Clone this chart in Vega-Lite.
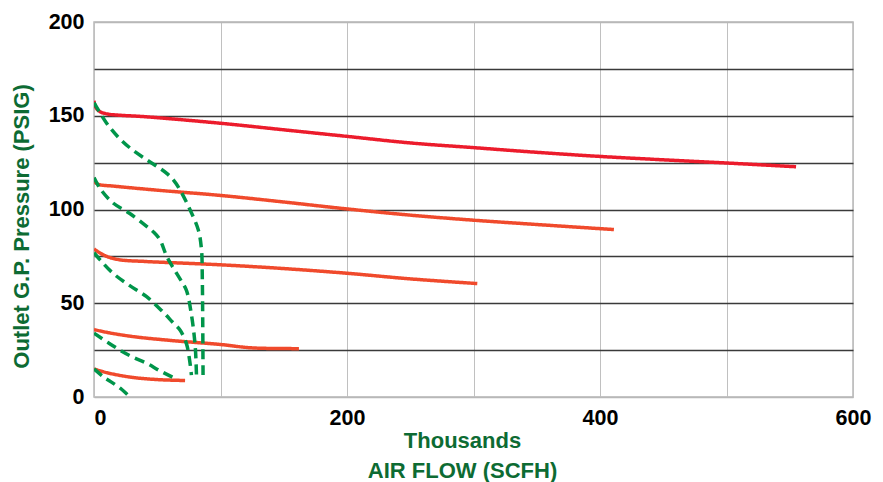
{
  "$schema": "https://vega.github.io/schema/vega-lite/v6.json",
  "width": 759,
  "height": 375,
  "autosize": {"type": "none"},
  "padding": {"left": 94, "top": 22, "right": 30, "bottom": 85},
  "background": "white",
  "config": {
    "view": {"stroke": "#b8b8b8", "strokeWidth": 1.5},
    "font": "Liberation Sans"
  },
  "data": {
    "values": [
      {"s": "P1", "k": "pressure", "i": 0, "x": 0, "y": 158},
      {"s": "P1", "k": "pressure", "i": 1, "x": 1, "y": 155},
      {"s": "P1", "k": "pressure", "i": 2, "x": 4, "y": 152.5},
      {"s": "P1", "k": "pressure", "i": 3, "x": 10, "y": 151},
      {"s": "P1", "k": "pressure", "i": 4, "x": 20, "y": 150.3},
      {"s": "P1", "k": "pressure", "i": 5, "x": 40, "y": 149.5},
      {"s": "P1", "k": "pressure", "i": 6, "x": 100, "y": 146},
      {"s": "P1", "k": "pressure", "i": 7, "x": 150, "y": 142.5},
      {"s": "P1", "k": "pressure", "i": 8, "x": 200, "y": 139},
      {"s": "P1", "k": "pressure", "i": 9, "x": 250, "y": 135.5},
      {"s": "P1", "k": "pressure", "i": 10, "x": 300, "y": 133},
      {"s": "P1", "k": "pressure", "i": 11, "x": 350, "y": 130.5},
      {"s": "P1", "k": "pressure", "i": 12, "x": 400, "y": 128.3},
      {"s": "P1", "k": "pressure", "i": 13, "x": 450, "y": 126.5},
      {"s": "P1", "k": "pressure", "i": 14, "x": 500, "y": 124.8},
      {"s": "P1", "k": "pressure", "i": 15, "x": 555, "y": 122.8},

      {"s": "P2", "k": "pressure", "i": 0, "x": 0, "y": 117},
      {"s": "P2", "k": "pressure", "i": 1, "x": 1, "y": 114.5},
      {"s": "P2", "k": "pressure", "i": 2, "x": 4, "y": 113.3},
      {"s": "P2", "k": "pressure", "i": 3, "x": 15, "y": 112.5},
      {"s": "P2", "k": "pressure", "i": 4, "x": 50, "y": 110.3},
      {"s": "P2", "k": "pressure", "i": 5, "x": 100, "y": 107.5},
      {"s": "P2", "k": "pressure", "i": 6, "x": 150, "y": 104},
      {"s": "P2", "k": "pressure", "i": 7, "x": 200, "y": 100.3},
      {"s": "P2", "k": "pressure", "i": 8, "x": 250, "y": 97},
      {"s": "P2", "k": "pressure", "i": 9, "x": 300, "y": 94.3},
      {"s": "P2", "k": "pressure", "i": 10, "x": 350, "y": 92},
      {"s": "P2", "k": "pressure", "i": 11, "x": 411, "y": 89.3},

      {"s": "P3", "k": "pressure", "i": 0, "x": 0, "y": 79},
      {"s": "P3", "k": "pressure", "i": 1, "x": 3, "y": 77.5},
      {"s": "P3", "k": "pressure", "i": 2, "x": 10, "y": 75},
      {"s": "P3", "k": "pressure", "i": 3, "x": 20, "y": 73.2},
      {"s": "P3", "k": "pressure", "i": 4, "x": 40, "y": 72.3},
      {"s": "P3", "k": "pressure", "i": 5, "x": 100, "y": 70.5},
      {"s": "P3", "k": "pressure", "i": 6, "x": 150, "y": 68.5},
      {"s": "P3", "k": "pressure", "i": 7, "x": 200, "y": 66},
      {"s": "P3", "k": "pressure", "i": 8, "x": 250, "y": 63},
      {"s": "P3", "k": "pressure", "i": 9, "x": 303, "y": 60.5},

      {"s": "P4", "k": "pressure", "i": 0, "x": 0, "y": 36},
      {"s": "P4", "k": "pressure", "i": 1, "x": 10, "y": 34.5},
      {"s": "P4", "k": "pressure", "i": 2, "x": 30, "y": 32.3},
      {"s": "P4", "k": "pressure", "i": 3, "x": 60, "y": 30.2},
      {"s": "P4", "k": "pressure", "i": 4, "x": 100, "y": 28},
      {"s": "P4", "k": "pressure", "i": 5, "x": 125, "y": 26.2},
      {"s": "P4", "k": "pressure", "i": 6, "x": 162, "y": 25.8},

      {"s": "P5", "k": "pressure", "i": 0, "x": 0, "y": 15},
      {"s": "P5", "k": "pressure", "i": 1, "x": 10, "y": 13},
      {"s": "P5", "k": "pressure", "i": 2, "x": 30, "y": 10.5},
      {"s": "P5", "k": "pressure", "i": 3, "x": 50, "y": 9.3},
      {"s": "P5", "k": "pressure", "i": 4, "x": 72, "y": 8.8},

      {"s": "F1", "k": "flow", "i": 0, "x": 0, "y": 157},
      {"s": "F1", "k": "flow", "i": 1, "x": 10, "y": 146},
      {"s": "F1", "k": "flow", "i": 2, "x": 20, "y": 138},
      {"s": "F1", "k": "flow", "i": 3, "x": 30, "y": 132},
      {"s": "F1", "k": "flow", "i": 4, "x": 42, "y": 126.4},
      {"s": "F1", "k": "flow", "i": 5, "x": 52, "y": 122},
      {"s": "F1", "k": "flow", "i": 6, "x": 58, "y": 119},
      {"s": "F1", "k": "flow", "i": 7, "x": 63, "y": 115.5},
      {"s": "F1", "k": "flow", "i": 8, "x": 68, "y": 110.5},
      {"s": "F1", "k": "flow", "i": 9, "x": 76, "y": 99.7},
      {"s": "F1", "k": "flow", "i": 10, "x": 82.5, "y": 89},
      {"s": "F1", "k": "flow", "i": 11, "x": 85, "y": 78.4},
      {"s": "F1", "k": "flow", "i": 12, "x": 85.6, "y": 64},
      {"s": "F1", "k": "flow", "i": 13, "x": 85.9, "y": 45},
      {"s": "F1", "k": "flow", "i": 14, "x": 86.1, "y": 25},
      {"s": "F1", "k": "flow", "i": 15, "x": 86.2, "y": 11.7},

      {"s": "F2", "k": "flow", "i": 0, "x": 0, "y": 117},
      {"s": "F2", "k": "flow", "i": 1, "x": 5, "y": 111},
      {"s": "F2", "k": "flow", "i": 2, "x": 15, "y": 103.5},
      {"s": "F2", "k": "flow", "i": 3, "x": 28, "y": 98},
      {"s": "F2", "k": "flow", "i": 4, "x": 41.6, "y": 91},
      {"s": "F2", "k": "flow", "i": 5, "x": 47, "y": 88},
      {"s": "F2", "k": "flow", "i": 6, "x": 52, "y": 84},
      {"s": "F2", "k": "flow", "i": 7, "x": 57.5, "y": 75},
      {"s": "F2", "k": "flow", "i": 8, "x": 63, "y": 68.5},
      {"s": "F2", "k": "flow", "i": 9, "x": 68, "y": 63},
      {"s": "F2", "k": "flow", "i": 10, "x": 73, "y": 57},
      {"s": "F2", "k": "flow", "i": 11, "x": 77, "y": 44},
      {"s": "F2", "k": "flow", "i": 12, "x": 80, "y": 27},
      {"s": "F2", "k": "flow", "i": 13, "x": 81, "y": 11.7},

      {"s": "F3", "k": "flow", "i": 0, "x": 0, "y": 77},
      {"s": "F3", "k": "flow", "i": 1, "x": 5, "y": 73},
      {"s": "F3", "k": "flow", "i": 2, "x": 15, "y": 66},
      {"s": "F3", "k": "flow", "i": 3, "x": 28, "y": 59.5},
      {"s": "F3", "k": "flow", "i": 4, "x": 41.6, "y": 53.5},
      {"s": "F3", "k": "flow", "i": 5, "x": 55, "y": 45},
      {"s": "F3", "k": "flow", "i": 6, "x": 62, "y": 40},
      {"s": "F3", "k": "flow", "i": 7, "x": 68, "y": 35.7},
      {"s": "F3", "k": "flow", "i": 8, "x": 73, "y": 28.6},
      {"s": "F3", "k": "flow", "i": 9, "x": 75.5, "y": 20},
      {"s": "F3", "k": "flow", "i": 10, "x": 77, "y": 11.7},

      {"s": "F4", "k": "flow", "i": 0, "x": 0, "y": 34},
      {"s": "F4", "k": "flow", "i": 1, "x": 10, "y": 29.5},
      {"s": "F4", "k": "flow", "i": 2, "x": 20.5, "y": 25},
      {"s": "F4", "k": "flow", "i": 3, "x": 30, "y": 21.5},
      {"s": "F4", "k": "flow", "i": 4, "x": 41.6, "y": 18},
      {"s": "F4", "k": "flow", "i": 5, "x": 52, "y": 14},
      {"s": "F4", "k": "flow", "i": 6, "x": 62, "y": 10.6},

      {"s": "F5", "k": "flow", "i": 0, "x": 0, "y": 15},
      {"s": "F5", "k": "flow", "i": 1, "x": 8, "y": 10.5},
      {"s": "F5", "k": "flow", "i": 2, "x": 15, "y": 7.4},
      {"s": "F5", "k": "flow", "i": 3, "x": 22, "y": 4},
      {"s": "F5", "k": "flow", "i": 4, "x": 28.5, "y": 0}
    ]
  },
  "mark": {"type": "line", "strokeWidth": 3.5, "interpolate": "catmull-rom", "clip": true},
  "encoding": {
    "x": {
      "field": "x",
      "type": "quantitative",
      "scale": {"domain": [0, 600], "nice": false, "zero": false},
      "axis": {
        "title": ["Thousands", "AIR FLOW (SCFH)"],
        "values": [0, 100, 200, 300, 400, 500, 600],
        "labelExpr": "datum.value % 200 === 0 ? datum.label : ''",
        "grid": true,
        "gridColor": "#c0c0c0",
        "gridWidth": 1,
        "ticks": false,
        "domain": false,
        "labelFlush": false,
        "labelAlign": {"condition": {"test": "datum.value === 0", "value": "left"}, "value": "center"},
        "labelFont": "Liberation Sans",
        "labelFontSize": 21.5,
        "labelFontWeight": "bold",
        "labelColor": "#000000",
        "labelPadding": 10,
        "titleFont": "Liberation Sans",
        "titleFontSize": 22,
        "titleFontWeight": "bold",
        "titleColor": "#0d6b33",
        "titleLineHeight": 30,
        "titleAnchor": "start",
        "titleAlign": "center",
        "titleX": 368,
        "titleY": 50,
        "titleBaseline": "alphabetic"
      }
    },
    "y": {
      "field": "y",
      "type": "quantitative",
      "scale": {"domain": [0, 200], "nice": false},
      "axis": {
        "title": "Outlet G.P. Pressure (PSIG)",
        "values": [0, 25, 50, 75, 100, 125, 150, 175, 200],
        "labelExpr": "datum.value % 50 === 0 ? datum.label : ''",
        "grid": true,
        "gridColor": {"condition": {"test": "datum.value === 0 || datum.value === 200", "value": "#b8b8b8"}, "value": "#3a3a3a"},
        "gridWidth": 1.5,
        "ticks": false,
        "domain": false,
        "labelFont": "Liberation Sans",
        "labelFontSize": 21.5,
        "labelFontWeight": "bold",
        "labelColor": "#000000",
        "labelPadding": 10,
        "titleFont": "Liberation Sans",
        "titleFontSize": 22,
        "titleFontWeight": "bold",
        "titleColor": "#0d6b33",
        "titleAngle": -90,
        "titleAlign": "center",
        "titleBaseline": "middle",
        "titleX": -73,
        "titleY": 204
      }
    },
    "color": {
      "field": "s",
      "type": "nominal",
      "scale": {
        "domain": ["P1", "P2", "P3", "P4", "P5", "F1", "F2", "F3", "F4", "F5"],
        "range": ["#ec1c2c", "#f04a2c", "#f04a2c", "#f04a2c", "#f04a2c", "#00954a", "#00954a", "#00954a", "#00954a", "#00954a"]
      },
      "legend": null
    },
    "strokeDash": {
      "field": "k",
      "type": "nominal",
      "scale": {"domain": ["pressure", "flow"], "range": [[1, 0], [10, 6]]},
      "legend": null
    },
    "order": {"field": "i", "type": "quantitative"}
  }
}
